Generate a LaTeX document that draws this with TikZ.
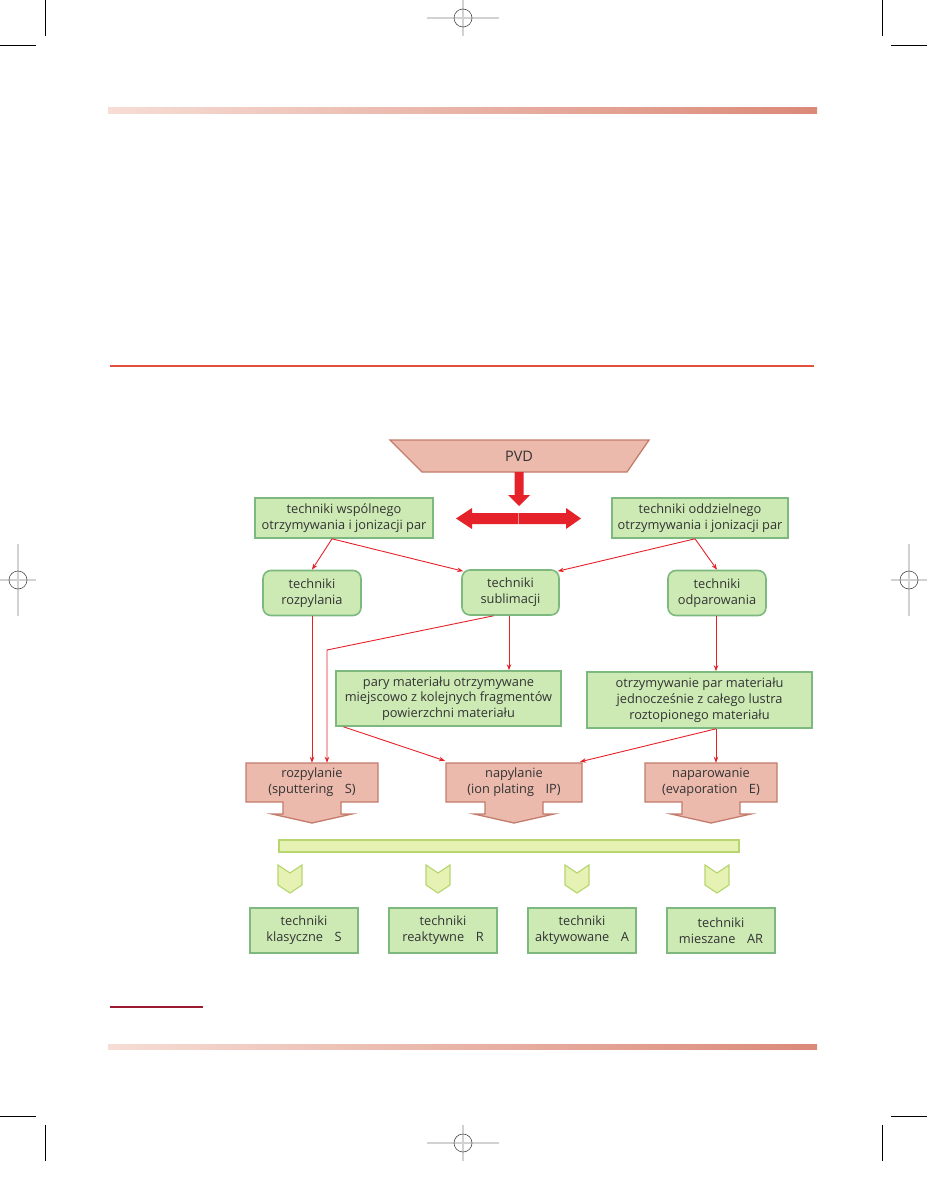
\documentclass[tikz,border=0pt]{standalone}
\usepackage{fontspec}
\setmainfont{Open Sans}
\usetikzlibrary{arrows.meta}
\definecolor{boxg}{HTML}{CDEAB5}
\definecolor{boxgd}{HTML}{7DB87E}
\definecolor{pinkf}{HTML}{EBBAAC}
\definecolor{pinkd}{HTML}{C47C6C}
\definecolor{redl}{HTML}{E52229}
\definecolor{txt}{HTML}{333333}
\definecolor{barf}{HTML}{E6F2B4}
\definecolor{bard}{HTML}{B8D670}
\definecolor{gradl}{HTML}{F6DDD5}
\definecolor{gradr}{HTML}{DB8978}
\definecolor{rulered}{HTML}{E0503C}
\definecolor{footred}{HTML}{9B1B30}
\definecolor{regg}{HTML}{D2D2D2}
\newcommand\pdshape[2]{\draw[pshape] ({#1-#2},763) -- ({#1+#2},763) -- ({#1+#2},802) -- ({#1+29},802) -- ({#1+29},814) -- ({#1+40},814) -- (#1,823) -- ({#1-40},814) -- ({#1-29},814) -- ({#1-29},802) -- ({#1-#2},802) -- cycle;}
\newcommand\chev[1]{\draw[chevs] ({#1-12},865) -- (#1,873) -- ({#1+12},865) -- ({#1+12},885) -- (#1,893) -- ({#1-12},885) -- cycle;}
\newcommand\regmark[3]{%
  \ifnum#3=1
    \draw[regline] ({#1-36},#2) -- ({#1+36},#2);
    \draw[regline] (#1,{#2-18}) -- (#1,{#2+18});
  \else
    \draw[regline] ({#1-18},#2) -- ({#1+18},#2);
    \draw[regline] (#1,{#2-36}) -- (#1,{#2+36});
  \fi
  \draw[draw=black!70, line width=0.6pt] (#1,#2) circle[radius=9pt];}
\tikzset{
  gbox/.style={draw=boxgd, fill=boxg, line width=1.6pt, inner sep=0pt, align=center, text=txt, font=\fontsize{12.8}{15.8}\selectfont},
  rbox/.style={gbox, rounded corners=8pt},
  ptext/.style={inner sep=0pt, align=center, text=txt, font=\fontsize{12.8}{15.8}\selectfont},
  pshape/.style={draw=pinkd, fill=pinkf, line width=1.3pt, line join=miter},
  chevs/.style={draw=bard, fill=barf, line width=1.2pt},
  con/.style={draw=redl, line width=0.9pt, -{Stealth[length=6pt,width=4.5pt]}},
  bigred/.style={fill=redl, draw=none},
  regline/.style={draw=regg, line width=1.5pt},
  crop/.style={draw=black, line width=0.7pt}
}
\begin{document}
\begin{tikzpicture}[x=1pt,y=-1pt]
\useasboundingbox (0,0) rectangle (927,1190);
\fill[white] (0,0) rectangle (927,1190);
% crop marks
\draw[crop] (45,0) -- (45,36); \draw[crop] (0,45) -- (36,45);
\draw[crop] (882,0) -- (882,36); \draw[crop] (891,45) -- (927,45);
\draw[crop] (0,1116) -- (36,1116); \draw[crop] (891,1116) -- (927,1116);
\draw[crop] (45,1125) -- (45,1161); \draw[crop] (882,1125) -- (882,1161);
\regmark{463}{18}{1}
\regmark{463}{1143}{1}
\regmark{18}{580}{0}
\regmark{909}{580}{0}
% page decoration
\shade[left color=gradl, right color=gradr] (108,108) rectangle (817,114);
\shade[left color=gradl, right color=gradr] (108,1044) rectangle (817,1049);
\draw[rulered, line width=1.5pt] (110,366) -- (814,366);
\draw[footred, line width=1.2pt] (110,1007) -- (203,1007);
% PVD
\draw[pshape] (390,440) -- (649,440) -- (627,472) -- (422,472) -- cycle;
\node[ptext, font=\fontsize{14.5}{16}\selectfont] (pvd) at (519,456) {PVD};
\fill[bigred] (514.5,472) -- (523.5,472) -- (523.5,495) -- (530,495) -- (519,506) -- (508,495) -- (514.5,495) -- cycle;
\fill[bigred] (456,518.5) -- (472,508) -- (472,513) -- (566,513) -- (566,508) -- (581,518.5) -- (566,529) -- (566,524) -- (472,524) -- (472,529) -- cycle;
\draw[white, opacity=0.5, line width=0.5pt] (518,513) -- (518,524);
% upper boxes
\node[gbox, minimum width=178, minimum height=40] (wsp) at (344,518) {techniki wspólnego\\otrzymywania i jonizacji par};
\node[gbox, minimum width=176, minimum height=40] (odd) at (700,518) {techniki oddzielnego\\otrzymywania i jonizacji par};
\node[rbox, minimum width=98, minimum height=45] (roz) at (312,593) {techniki\\rozpylania};
\node[rbox, minimum width=97, minimum height=45] (sub) at (510.5,592.5) {techniki\\sublimacji};
\node[rbox, minimum width=98, minimum height=45] (odp) at (717,593) {techniki\\odparowania};
\node[gbox, minimum width=225, minimum height=55] (pary) at (448.5,698.5) {pary materiału otrzymywane\\miejscowo z kolejnych fragmentów\\powierzchni materiału};
\node[gbox, minimum width=225, minimum height=56] (otrz) at (699.5,700) {otrzymywanie par materiału\\jednocześnie z całego lustra\\roztopionego materiału};
% pink block arrows
\pdshape{312}{66}
\pdshape{514}{68}
\pdshape{711}{66}
\node[ptext, minimum width=132, minimum height=39] (rozS) at (312,782.5) {rozpylanie\\(sputtering\hspace{0.9em}S)};
\node[ptext, minimum width=136, minimum height=39] (napIP) at (514,782.5) {napylanie\\(ion plating\hspace{0.9em}IP)};
\node[ptext, minimum width=132, minimum height=39] (napE) at (711,782.5) {naparowanie\\(evaporation\hspace{0.9em}E)};
% bar and chevrons
\node[draw=bard, fill=barf, line width=1.2pt, minimum width=460, minimum height=12, inner sep=0pt] (bar) at (509,846) {};
\chev{290}
\chev{438}
\chev{577}
\chev{717}
\node[gbox, minimum width=108, minimum height=45] (kS) at (304,930.5) {techniki\\klasyczne\hspace{0.9em}S};
\node[gbox, minimum width=108, minimum height=45] (kR) at (443,930.5) {techniki\\reaktywne\hspace{0.9em}R};
\node[gbox, minimum width=108, minimum height=45] (kA) at (582,930.5) {techniki\\aktywowane\hspace{0.9em}A};
\node[gbox, minimum width=108, minimum height=45] (kAR) at (721,930.5) {techniki\\mieszane\hspace{0.9em}AR};
% connectors
\draw[con] ([xshift=-12pt]wsp.south) -- (roz.north);
\draw[con] ([xshift=-12pt]wsp.south) -- ([xshift=2pt,yshift=-2pt]sub.north west);
\draw[con] ([xshift=-5pt]odd.south) -- (odp.north);
\draw[con] ([xshift=-5pt]odd.south) -- ([xshift=-2pt,yshift=-2pt]sub.north east);
\draw[con] (roz.south) -- (roz.south |- rozS.north);
\coordinate (bend) at (327,650);
\draw[con] ([xshift=-17pt]sub.south) -- (bend) -- (bend |- rozS.north);
\draw[con] ([xshift=-1.5pt]sub.south) -- ([xshift=-1.5pt]sub.south |- pary.north);
\draw[con] ([xshift=-105pt]pary.south) -- ([xshift=-69pt,yshift=2pt]napIP.north);
\draw[con] ([xshift=-1pt]odp.south) -- ([xshift=-1pt]odp.south |- otrz.north);
\draw[con] ([xshift=16.5pt]otrz.south) -- ([xshift=16.5pt]otrz.south |- napE.north);
\draw[con] ([xshift=16.5pt]otrz.south) -- ([xshift=66pt,yshift=1pt]napIP.north);
\end{tikzpicture}
\end{document}
